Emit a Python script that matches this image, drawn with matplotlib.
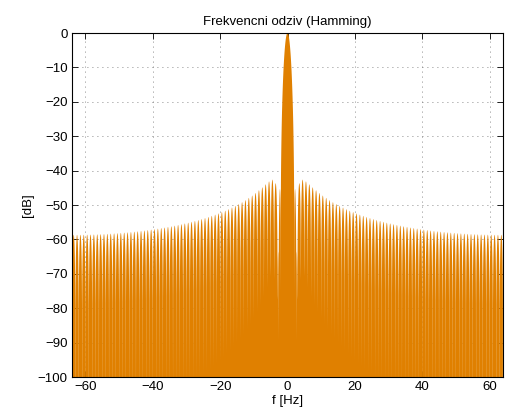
#!/usr/bin/env python3
"""Frekvencni odziv Hammingova okna, izrisan v slogu MATLAB."""

import numpy as np
import matplotlib
matplotlib.use('Agg')
import matplotlib.pyplot as plt

# parametri signala (okno in FFT), iz katerih nastane spekter
fs = 128          # vzorcna frekvenca [Hz]
N = 128           # dolzina okna
nfft = 4096       # dolzina FFT

x_ticks = [-60, -40, -20, 0, 20, 40, 60]
y_ticks = [-100, -90, -80, -70, -60, -50, -40, -30, -20, -10, 0]
x_lim = [-fs / 2, fs / 2]
y_lim = [-100, 0]

title = "Frekvencni odziv (Hamming)"
x_label = "f [Hz]"
y_label = "[dB]"

# spekter okna
w = np.hamming(N)
W = np.fft.fftshift(np.fft.fft(w, nfft))
f = np.fft.fftshift(np.fft.fftfreq(nfft, d=1 / fs))
H = 20 * np.log10(np.abs(W) / np.abs(W).max() + 1e-12)

plt.rcParams['font.family'] = ['Liberation Sans', 'DejaVu Sans']
fs_txt = 9.5

fig = plt.figure(figsize=(5.05, 4.12), dpi=100)
ax = fig.add_axes([72 / 505, 35 / 412, 431 / 505, 344 / 412])

# ploskev pod krivuljo (od dna navzgor)
ax.fill_between(f, H, -300, color='#E08000', lw=0, zorder=2)

ax.set_xlim(x_lim)
ax.set_ylim(y_lim)
ax.set_xticks(x_ticks)
ax.set_yticks(y_ticks)
ax.set_axisbelow(True)
ax.grid(True, linestyle=(0, (1, 5)), color='#666666', lw=0.6)
ax.tick_params(direction='in', length=4, width=0.6, top=True, right=True,
               labelsize=fs_txt, pad=3)
for s in ax.spines.values():
    s.set_linewidth(0.8)
    s.set_zorder(3)

ax.set_title(title, fontsize=fs_txt, pad=6)
ax.set_xlabel(x_label, fontsize=fs_txt, labelpad=1)
ax.set_ylabel(y_label, fontsize=fs_txt, labelpad=3)

fig.savefig("out.png", dpi=100, facecolor='white')
